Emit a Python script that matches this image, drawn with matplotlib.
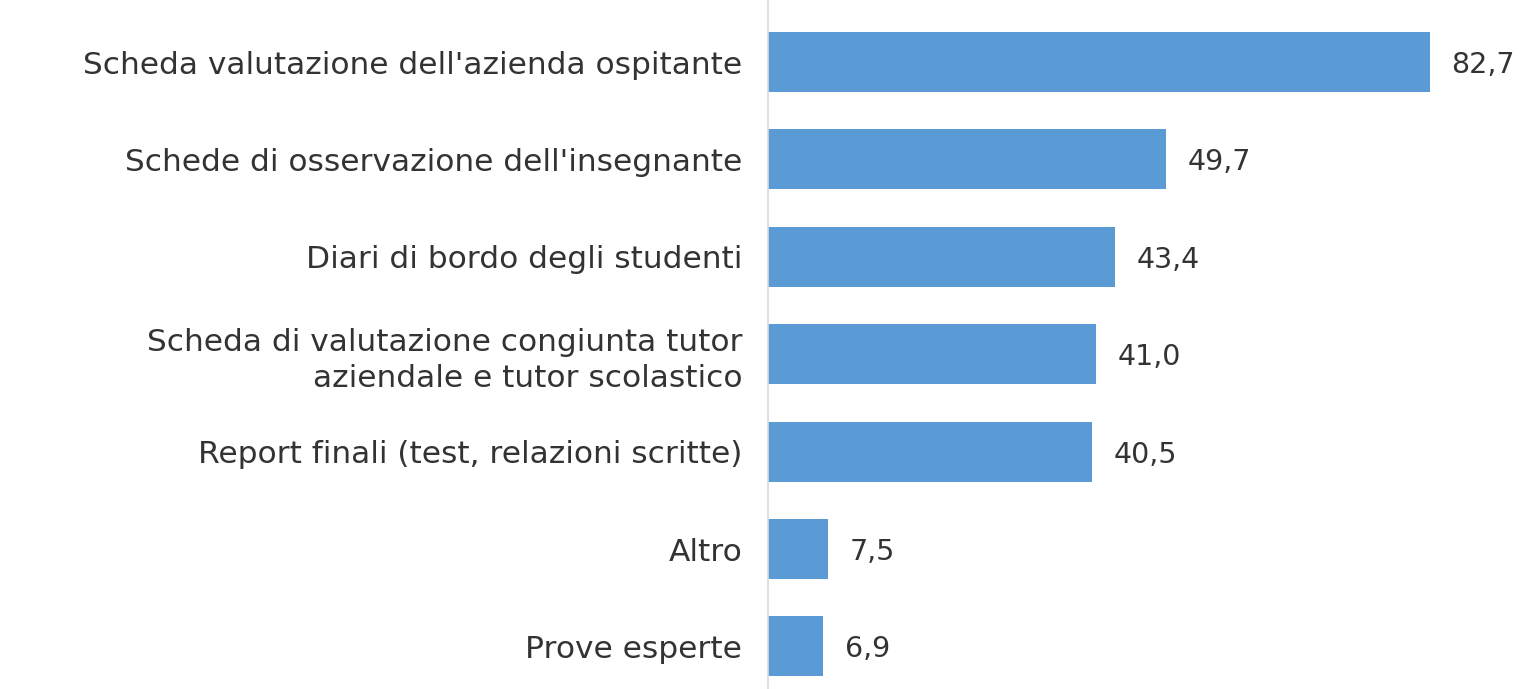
import matplotlib.pyplot as plt

categories = ["Scheda valutazione dell'azienda ospitante",
              "Schede di osservazione dell'insegnante",
              "Diari di bordo degli studenti",
              "Scheda di valutazione congiunta tutor\naziendale e tutor scolastico",
              "Report finali (test, relazioni scritte)",
              "Altro",
              "Prove esperte"]
values = [82.7, 49.7, 43.4, 41.0, 40.5, 7.5, 6.9]
value_labels = ["82,7", "49,7", "43,4", "41,0", "40,5", "7,5", "6,9"]

plt.rcParams['font.family'] = ['DejaVu Sans']

fig = plt.figure(figsize=(15.22, 6.89), dpi=100)
ax = fig.add_axes([768 / 1522, 0, 1 - 768 / 1522, 1])

pos = list(range(len(categories)))
ax.barh(pos, values, height=0.615, color='#5B9BD5')
ax.set_ylim(6.437, -0.637)
ax.set_xlim(0, 94.25)

for p, v, lab in zip(pos, values, value_labels):
    ax.text(v + 2.7, p + 0.03, lab, va='center', ha='left', fontsize=20.5, color='#333333')

ax.set_yticks(pos)
ax.set_yticklabels(categories, fontsize=22.5, color='#333333', ha='right',
                   multialignment='right', linespacing=1.3)
ax.tick_params(axis='y', length=0, pad=18.5)
ax.set_xticks([])
for s in ['top', 'right', 'bottom']:
    ax.spines[s].set_visible(False)
ax.spines['left'].set_color('#D9D9D9')
ax.spines['left'].set_linewidth(1.2)

fig.savefig('out.png', dpi=100)
